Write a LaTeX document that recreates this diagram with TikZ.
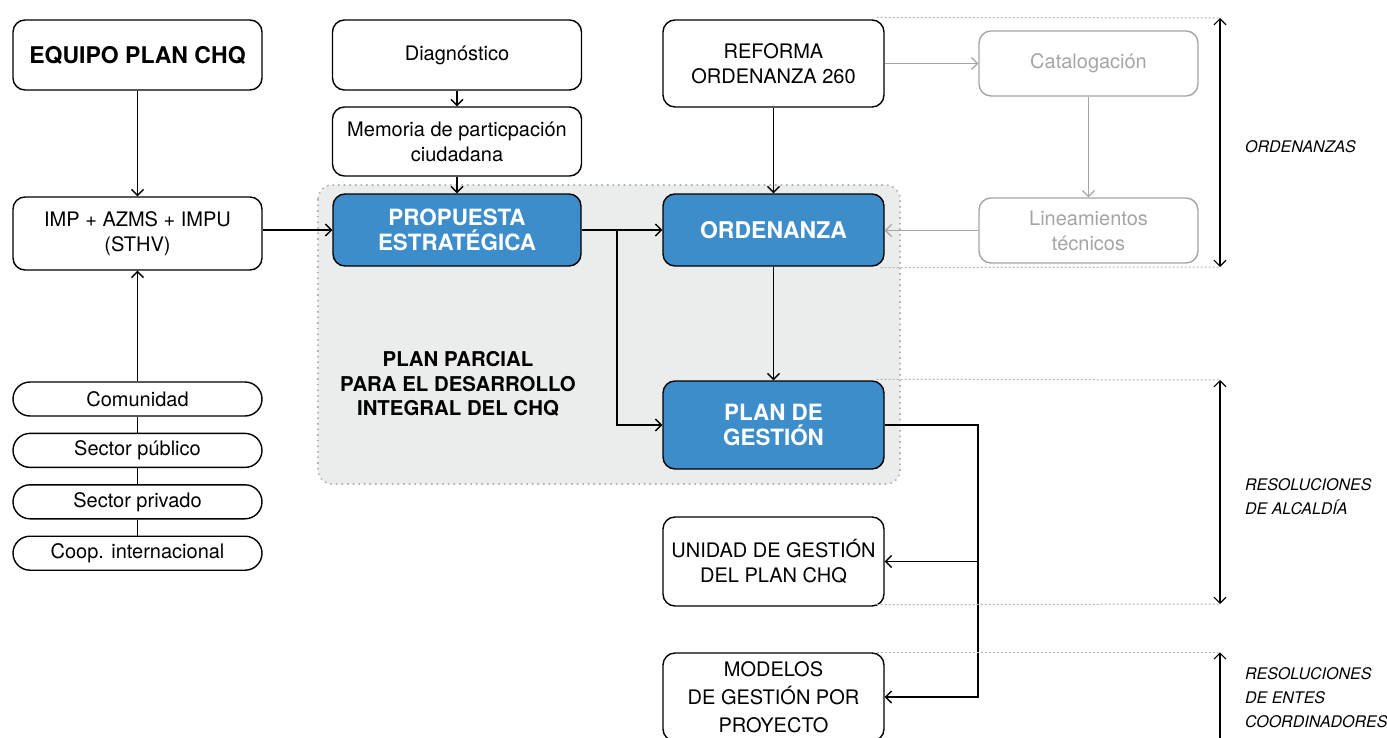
\documentclass[tikz,border=0pt]{standalone}
\usepackage{fontspec}
\setmainfont{TeX Gyre Heros}
\usepackage{tikz}
\usetikzlibrary{positioning,arrows.meta,backgrounds}

\definecolor{planblue}{RGB}{61,141,203}
\definecolor{zonegray}{RGB}{235,236,236}
\definecolor{softgray}{RGB}{165,165,165}
\definecolor{dotgray}{RGB}{178,178,178}

\begin{document}
\begin{tikzpicture}[
    x=0.5pt, y=-0.5pt,
    font=\fontsize{10}{12.5}\selectfont,
    box/.style={rectangle, draw=black, line width=0.7pt, fill=white, rounded corners=6pt, align=center, inner sep=2pt, minimum width=124.5pt, minimum height=35pt},
    keybox/.style={box, fill=planblue, text=white, font=\bfseries\fontsize{11.2}{12.5}\selectfont, minimum width=110.5pt, minimum height=36pt},
    greybox/.style={box, draw=softgray, text=softgray, minimum width=109.5pt, minimum height=32.5pt},
    pill/.style={box, rounded corners=8.5pt, minimum height=17pt},
    arrow/.style={-{Straight Barb[length=3pt,width=6pt]}, line width=0.7pt},
    greyarrow/.style={arrow, draw=softgray, line width=0.6pt},
    span/.style={{Straight Barb[length=3pt,width=6pt]}-{Straight Barb[length=3pt,width=6pt]}, line width=0.55pt},
    guide/.style={dotgray, dash pattern=on 1pt off 1pt, line width=0.5pt},
    tag/.style={anchor=west, align=left, font=\itshape\fontsize{8}{12}\selectfont}
]
\useasboundingbox (0,0) rectangle (1387,738);

% Plan parcial zone
\begin{scope}[on background layer]
\draw[dotgray, dotted, line width=0.8pt, fill=zonegray, rounded corners=7pt] (318,185) rectangle (900,484);
\end{scope}
\node[font=\bfseries\fontsize{10.2}{12.25}\selectfont, align=center] (plantitle) at (458,384) {PLAN PARCIAL\\PARA EL DESARROLLO\\INTEGRAL DEL CHQ};

% Left column
\node[box, font=\bfseries\fontsize{11.5}{13}\selectfont] (equipo) at (137.5,55) {EQUIPO PLAN CHQ};
\node[box, minimum height=36.5pt] (imp) at (137.5,233.5) {IMP + AZMS + IMPU\\(STHV)};
\node[pill] (comunidad) at (137.5,399) {Comunidad};
\node[pill, below=8pt of comunidad] (publico) {Sector público};
\node[pill, below=8pt of publico] (privado) {Sector privado};
\node[pill, below=8pt of privado] (coop) {Coop. internacional};

% Middle column
\node[box] (diag) at (457,55) {Diagnóstico};
\node[box, minimum height=34.5pt] (memoria) at (457,141.5) {Memoria de particpación\\ciudadana};
\node[keybox, minimum width=124pt] (propuesta) at (457,230) {PROPUESTA\\ESTRATÉGICA};

% Ordenanza column
\node[box, minimum width=110.5pt, minimum height=43.5pt] (reforma) at (773.5,63.5) {REFORMA\\ORDENANZA 260};
\node[keybox, font=\bfseries\fontsize{11.5}{12.5}\selectfont] (ordenanza) at (773.5,230) {ORDENANZA};
\node[keybox, minimum height=44pt] (plan) at (773.5,425) {PLAN DE\\GESTIÓN};
\node[box, minimum width=110.5pt, minimum height=44.5pt] (unidad) at (773.5,561.5) {UNIDAD DE GESTIÓN\\DEL PLAN CHQ};
\node[box, minimum width=110.5pt, minimum height=44pt, font=\fontsize{10}{14}\selectfont] (modelos) at (773.5,697) {MODELOS\\DE GESTIÓN POR\\PROYECTO};

% Technical inputs
\node[greybox] (catalog) at (1088.5,63.5) {Catalogación};
\node[greybox] (lineam) at (1088.5,230.5) {Lineamientos\\técnicos};

% Connections
\draw[arrow] (equipo) -- (imp);
\draw[arrow] (comunidad) -- (imp);
\draw[line width=0.7pt] (comunidad) -- (publico);
\draw[line width=0.7pt] (publico) -- (privado);
\draw[line width=0.7pt] (privado) -- (coop);
\draw[arrow] (imp.east |- propuesta.west) -- (propuesta.west);
\draw[arrow] (diag) -- (memoria);
\draw[arrow] (memoria) -- (propuesta);
\draw[arrow] (propuesta) -- (ordenanza);
\coordinate (split) at (617,230);
\draw[arrow] (split) |- (plan.west);
\draw[arrow] (reforma) -- (ordenanza);
\draw[arrow] (ordenanza) -- (plan);
\coordinate (bus) at (978,425);
\draw[arrow] (plan.east) -- (bus) |- (unidad.east);
\draw[arrow] (bus) |- (modelos.east);

% Grey feedback
\draw[greyarrow] (reforma.east) -- (catalog.west);
\draw[greyarrow] (catalog) -- (lineam);
\draw[greyarrow] (lineam.west) -- (ordenanza.east |- lineam.west);

% Legal levels
\coordinate (ruler) at (1220,0);
\coordinate (rulerend) at (1220,750);
\draw[guide] (reforma.north east) ++(-4pt,-2) -- (1220,18);
\draw[guide] (ordenanza.south east) ++(-2pt,1) -- (1220,267);
\draw[guide] (plan.north east) ++(-4pt,-1) -- (1220,380);
\draw[guide] (unidad.south east) ++(-4pt,-2) -- (1220,604);
\draw[guide] (modelos.north east) ++(-4pt,0) -- (modelos.north east -| ruler);
\draw[span] (1220,18) -- (1220,267);
\draw[span] (1220,380) -- (1220,604);
\draw[span] (modelos.north east -| ruler) -- (rulerend);
\node[tag] (ordtag) at (1238,147) {ORDENANZAS};
\node[tag] (alctag) at (1238,497) {RESOLUCIONES\\DE ALCALDÍA};
\node[tag] (entestag) at (1238,698) {RESOLUCIONES\\DE ENTES\\COORDINADORES};

\end{tikzpicture}
\end{document}
